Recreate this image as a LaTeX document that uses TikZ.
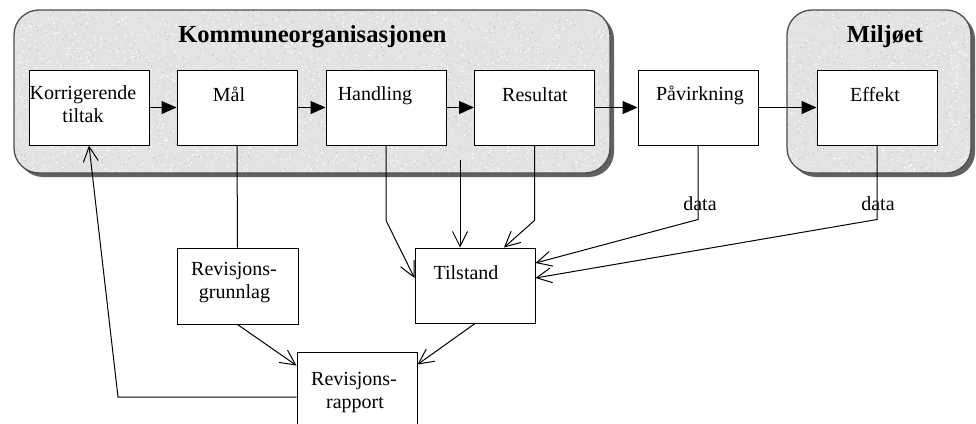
\documentclass[tikz,border=0pt]{standalone}
\usepackage{fontspec}
\setmainfont{Liberation Serif}
\usetikzlibrary{arrows.meta}

\begin{document}
\begin{tikzpicture}[x=1pt,y=-1pt,
  region/.style={rounded corners=25pt, fill=black!11},
  rim/.style={rounded corners=25pt, draw=black!70, line width=1.3pt},
  shadowbox/.style={rounded corners=25pt, fill=black!62},
  box/.style={draw, fill=white, line width=1pt, minimum width=120pt,
              minimum height=75pt, inner sep=0pt},
  lbl/.style={font=\fontsize{20}{23}\selectfont, anchor=base, inner sep=0pt},
  ttl/.style={font=\fontsize{24.5}{28}\selectfont\bfseries, anchor=base, inner sep=0pt},
  flow/.style={line width=1pt, -{Triangle[length=15pt,width=13pt]}},
  link/.style={line width=1pt, -{Straight Barb[length=15pt,width=15pt]}},
  wire/.style={line width=1pt}]
\useasboundingbox (0,0) rectangle (976,423);
\clip (0,0) rectangle (976,423);

% grey group areas with drop shadows
\fill[shadowbox] (18,14) rectangle (614,177);
\fill[shadowbox] (791,14) rectangle (975,177);
\fill[region] (14,10) rectangle (610,173);
\fill[region] (787,10) rectangle (971,173);

% granite speckle
\pgfmathsetseed{4711}
\begin{scope}
  \clip[rounded corners=25pt] (14,10) rectangle (610,173);
  \foreach \i in {1,...,2000}
    \fill[white, opacity=.8] ({14+596*rnd},{10+163*rnd}) circle (0.9pt);
  \foreach \i in {1,...,1100}
    \fill[black!24] ({14+596*rnd},{10+163*rnd}) circle (0.6pt);
\end{scope}
\begin{scope}
  \clip[rounded corners=25pt] (787,10) rectangle (971,173);
  \foreach \i in {1,...,620}
    \fill[white, opacity=.8] ({787+184*rnd},{10+163*rnd}) circle (0.9pt);
  \foreach \i in {1,...,340}
    \fill[black!24] ({787+184*rnd},{10+163*rnd}) circle (0.6pt);
\end{scope}
\draw[rim] (14,10) rectangle (610,173);
\draw[rim] (787,10) rectangle (971,173);

\node[ttl] (orgtitle) at (312.5,42) {Kommuneorganisasjonen};
\node[ttl] (envtitle) at (885,42) {Miljøet};

% process boxes
\node[box] (korr) at (89,107.5) {};
\node[box] (mal)  at (237,107.5) {};
\node[box] (hand) at (386,107.5) {};
\node[box] (res)  at (534.5,107.5) {};
\node[box] (pav)  at (698,107.5) {};
\node[box] (eff)  at (877,107.5) {};

% lower boxes
\node[box, minimum width=121pt, minimum height=76pt] (grunn) at (237.5,286) {};
\node[box] (tilst) at (475,285.5) {};
\node[box] (rapp)  at (357,389.5) {};

% main chain
\draw[flow] (korr.east) -- (mal.west);
\draw[flow] (mal.east) -- (hand.west);
\draw[flow] (hand.east) -- (res.west);
\draw[flow] (res.east) -- (pav.west);
\draw[flow] (pav.east) -- (eff.west);

% audit links
\coordinate (orgfoot) at (460,160);
\coordinate (backturn) at (118,397);
\draw[wire] (mal.south) -- (grunn.north);
\draw[link] (grunn.south) -- ([yshift=-14pt]rapp.north west);
\draw[link] (tilst.south) -- ([yshift=-13pt]rapp.north east);
\draw[link] ([yshift=-7.5pt]rapp.west) -- (backturn) -- (korr.south);

% state inputs
\draw[link] (hand.south) -- ++(0,75) -- ([yshift=7.5pt]tilst.west);
\draw[link] (orgfoot) -- ([xshift=-15pt]tilst.north);
\draw[link] (res.south) -- ++(0,75) -- ([xshift=29pt]tilst.north);
\draw[link] (pav.south) -- ++(0,74) -- ([yshift=22.5pt]tilst.east);
\draw[link] (eff.south) -- ++(0,74) -- ([yshift=7.5pt]tilst.east);

% texts
\node[lbl] (tkorr1) at (83,99.5) {Korrigerende};
\node[lbl] (tkorr2) at (83,122.5) {tiltak};
\node[lbl] (tmal)  at (229,101) {Mål};
\node[lbl] (thand) at (375,100) {Handling};
\node[lbl] (tres)  at (535,101) {Resultat};
\node[lbl] (tpav)  at (700,100) {Påvirkning};
\node[lbl] (teff)  at (875,101) {Effekt};
\node[lbl] (tgr1)  at (234,275) {Revisjons-};
\node[lbl] (tgr2)  at (234.5,298) {grunnlag};
\node[lbl] (ttil)  at (466,279) {Tilstand};
\node[lbl] (tra1)  at (354,385) {Revisjons-};
\node[lbl] (tra2)  at (355,408) {rapport};
\node[lbl] (data1) at (700,210) {data};
\node[lbl] (data2) at (878,210) {data};
\end{tikzpicture}
\end{document}
